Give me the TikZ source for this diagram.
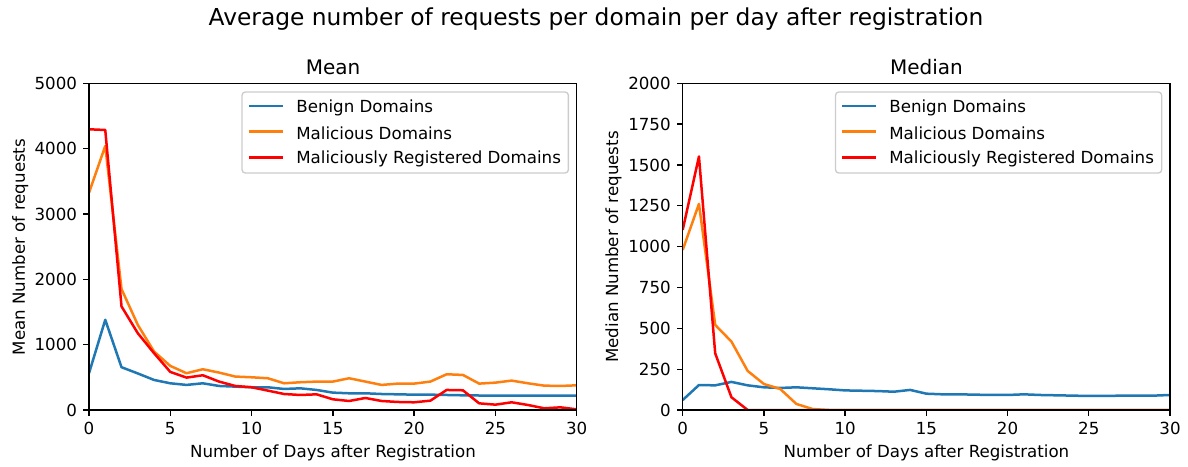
\documentclass[tikz,border=0pt]{standalone}
\usepackage{fontspec}
\setmainfont{DejaVu Sans}
\usetikzlibrary{positioning,calc}
\definecolor{tabblue}{HTML}{1F77B4}
\definecolor{taborange}{HTML}{FF7F0E}
\tikzset{
  spine/.style={draw=black, line width=0.8pt},
  tickmark/.style={line width=0.8pt},
  ticklbl/.style={font=\fontsize{10}{12}\selectfont, inner sep=0pt},
  axlbl/.style={font=\fontsize{10}{12}\selectfont, inner sep=0pt},
  ttl/.style={font=\fontsize{12}{14}\selectfont, inner sep=0pt},
  series/.style={line width=1.5pt, line join=round},
  benign/.style={series, draw=tabblue},
  malic/.style={series, draw=taborange},
  malreg/.style={series, draw=red},
  legbox/.style={draw=black!20, fill=white, fill opacity=0.8, rounded corners=2pt, line width=0.8pt},
  legtxt/.style={font=\fontsize{10}{12}\selectfont, inner sep=0pt, anchor=west},
}

\begin{document}
\begin{tikzpicture}[x=0.6pt, y=-0.6pt]
  \useasboundingbox (0,0) rectangle (1188,466);
  \node[ttl, font=\fontsize{14}{16}\selectfont, anchor=base] (suptitle) at (596,25) {Average number of requests per domain per day after registration};

  % left panel: mean
  \begin{scope}[shift={(89,410)}, x=9.754pt, y=0.039204pt]
    \begin{scope}
      \clip (0,0) rectangle (30,5000);
      \draw[benign] plot coordinates {(0,563) (1,1381) (2,655) (3,560) (4,460) (5,409) (6,384) (7,409) (8,368) (9,358) (10,348) (11,348) (12,322) (13,332) (14,307) (15,266) (16,256) (17,256) (18,245) (19,240) (20,235) (21,235) (22,230) (23,225) (24,222) (25,220) (26,220) (27,220) (28,220) (29,222) (30,220)};
      \draw[malic] plot coordinates {(0,3325) (1,4041) (2,1852) (3,1304) (4,895) (5,675) (6,563) (7,624) (8,573) (9,512) (10,501) (11,486) (12,409) (13,425) (14,435) (15,435) (16,486) (17,435) (18,384) (19,404) (20,404) (21,435) (22,547) (23,537) (24,404) (25,419) (26,450) (27,409) (28,373) (29,368) (30,378)};
      \draw[malreg] plot coordinates {(0,4297) (1,4286) (2,1586) (3,1176) (4,870) (5,583) (6,496) (7,532) (8,435) (9,368) (10,348) (11,297) (12,245) (13,230) (14,240) (15,164) (16,138) (17,184) (18,138) (19,123) (20,118) (21,143) (22,307) (23,302) (24,102) (25,82) (26,118) (27,77) (28,26) (29,41) (30,10)};
    \end{scope}
    \draw[spine] (0,0) rectangle (30,5000);
    \foreach \d in {0,5,...,30} {
      \draw[tickmark] (\d,0) -- ++(0pt,-3.5pt);
      \node[ticklbl, anchor=north] (mx\d) at ([yshift=-7pt]\d,0) {\d};
    }
    \foreach \v in {0,1000,...,5000} {
      \draw[tickmark] (0,\v) -- ++(-3.5pt,0pt);
      \node[ticklbl, anchor=east] (my\v) at ([xshift=-7pt]0,\v) {\v};
    }
  \end{scope}
  \node[ttl, anchor=base] (meantitle) at (333,74) {Mean};
  \node[axlbl, anchor=base] (meanxl) at (333,457) {Number of Days after Registration};
  \node[axlbl, rotate=90, anchor=base] (meanyl) at (25,247) {Mean Number of requests};

  % right panel: median
  \begin{scope}[shift={(682.7,410)}, x=9.746pt, y=0.09801pt]
    \begin{scope}
      \clip (0,0) rectangle (30,2000);
      \draw[benign] plot coordinates {(0,61) (1,153) (2,151) (3,172) (4,151) (5,139) (6,135) (7,139) (8,133) (9,127) (10,120) (11,118) (12,116) (13,112) (14,123) (15,100) (16,96) (17,96) (18,94) (19,92) (20,92) (21,96) (22,92) (23,90) (24,88) (25,86) (26,86) (27,88) (28,88) (29,88) (30,92)};
      \draw[malic] plot coordinates {(0,980) (1,1262) (2,521) (3,419) (4,239) (5,159) (6,129) (7,37) (8,6) (9,0) (30,0)};
      \draw[malreg] plot coordinates {(0,1103) (1,1552) (2,347) (3,78) (4,0) (30,0)};
    \end{scope}
    \draw[spine] (0,0) rectangle (30,2000);
    \foreach \d in {0,5,...,30} {
      \draw[tickmark] (\d,0) -- ++(0pt,-3.5pt);
      \node[ticklbl, anchor=north] (dx\d) at ([yshift=-7pt]\d,0) {\d};
    }
    \foreach \v in {0,250,...,2000} {
      \draw[tickmark] (0,\v) -- ++(-3.5pt,0pt);
      \node[ticklbl, anchor=east] (dy\v) at ([xshift=-7pt]0,\v) {\v};
    }
  \end{scope}
  \node[ttl, anchor=base] (medtitle) at (926.4,74) {Median};
  \node[axlbl, anchor=base] (medxl) at (926.4,457) {Number of Days after Registration};
  \node[axlbl, rotate=90, anchor=base] (medyl) at (618,247) {Median Number of requests};

  % legends
  \draw[legbox] (242,92) rectangle (568.4,173);
  \coordinate (lb0) at (249,106);   \coordinate (lb1) at (282.5,106);
  \coordinate (lo0) at (249,131.7); \coordinate (lo1) at (282.5,131.7);
  \coordinate (lr0) at (249,157.3); \coordinate (lr1) at (282.5,157.3);
  \draw[benign] (lb0) -- (lb1);
  \draw[malic] (lo0) -- (lo1);
  \draw[malreg] (lr0) -- (lr1);
  \node[legtxt] (lbt) at (296,107.5) {Benign Domains};
  \node[legtxt] (lot) at (296,133.2) {Malicious Domains};
  \node[legtxt] (lrt) at (296,158.8) {Maliciously Registered Domains};

  \draw[legbox] (835.5,92) rectangle (1161.7,173);
  \coordinate (rb0) at (842,106);   \coordinate (rb1) at (875.5,106);
  \coordinate (ro0) at (842,131.7); \coordinate (ro1) at (875.5,131.7);
  \coordinate (rr0) at (842,157.3); \coordinate (rr1) at (875.5,157.3);
  \draw[benign] (rb0) -- (rb1);
  \draw[malic] (ro0) -- (ro1);
  \draw[malreg] (rr0) -- (rr1);
  \node[legtxt] (rbt) at (889,107.5) {Benign Domains};
  \node[legtxt] (rot) at (889,133.2) {Malicious Domains};
  \node[legtxt] (rrt) at (889,158.8) {Maliciously Registered Domains};
\end{tikzpicture}
\end{document}
